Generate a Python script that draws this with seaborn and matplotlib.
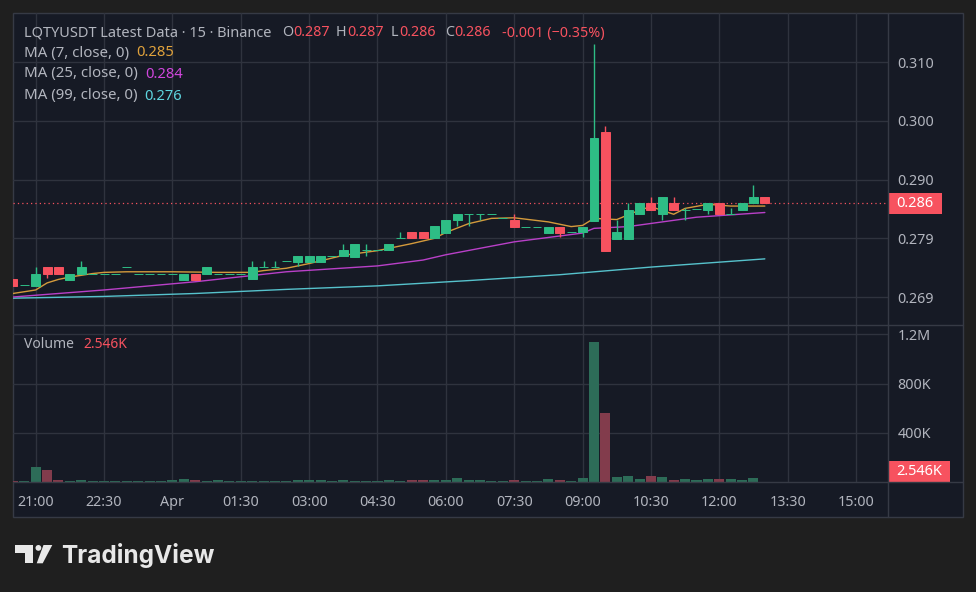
import matplotlib
matplotlib.use('Agg')
import matplotlib.pyplot as plt
from matplotlib.patches import Rectangle, Circle, Polygon
from matplotlib.lines import Line2D
import pandas as pd
import seaborn as sns

W, H = 976, 592

# 15 minute bars, 0 = 21:00 (Mar 31), 6 bars per 90 min tick
bar_idx = list(range(-2, 65))
opens = [0.2731, 0.2720, 0.2719, 0.2751, 0.2751, 0.2729, 0.2739, 0.2740, 0.2740, 0.2740,
         0.2751, 0.2740, 0.2740, 0.2740, 0.2740, 0.2729, 0.2740, 0.2739, 0.2740, 0.2740,
         0.2740, 0.2730, 0.2751, 0.2751, 0.2761, 0.2760, 0.2760, 0.2760, 0.2770, 0.2770,
         0.2769, 0.2780, 0.2780, 0.2780, 0.2800, 0.2811, 0.2811, 0.2800, 0.2809, 0.2831,
         0.2841, 0.2841, 0.2841, 0.2835, 0.2831, 0.2820, 0.2820, 0.2809, 0.2820, 0.2811,
         0.2810, 0.2830, 0.2981, 0.2799, 0.2799, 0.2841, 0.2860, 0.2841, 0.2860, 0.2849,
         0.2850, 0.2848, 0.2860, 0.2841, 0.2848, 0.2860, 0.2870]
highs = [0.2731, 0.2720, 0.2751, 0.2751, 0.2751, 0.2740, 0.2761, 0.2740, 0.2740, 0.2740,
         0.2751, 0.2740, 0.2740, 0.2740, 0.2740, 0.2740, 0.2740, 0.2751, 0.2740, 0.2740,
         0.2740, 0.2761, 0.2761, 0.2761, 0.2761, 0.2770, 0.2770, 0.2770, 0.2770, 0.2790,
         0.2790, 0.2790, 0.2780, 0.2790, 0.2811, 0.2811, 0.2811, 0.2821, 0.2831, 0.2841,
         0.2841, 0.2841, 0.2841, 0.2835, 0.2841, 0.2820, 0.2820, 0.2820, 0.2820, 0.2811,
         0.2820, 0.3131, 0.2991, 0.2831, 0.2860, 0.2860, 0.2870, 0.2870, 0.2870, 0.2852,
         0.2850, 0.2860, 0.2860, 0.2852, 0.2860, 0.2891, 0.2870]
lows = [0.2719, 0.2720, 0.2719, 0.2732, 0.2739, 0.2729, 0.2739, 0.2740, 0.2740, 0.2740,
        0.2751, 0.2740, 0.2740, 0.2740, 0.2740, 0.2729, 0.2729, 0.2739, 0.2740, 0.2740,
        0.2740, 0.2730, 0.2751, 0.2751, 0.2761, 0.2752, 0.2760, 0.2760, 0.2770, 0.2770,
        0.2769, 0.2770, 0.2780, 0.2780, 0.2800, 0.2800, 0.2800, 0.2800, 0.2809, 0.2821,
        0.2821, 0.2832, 0.2841, 0.2835, 0.2820, 0.2820, 0.2820, 0.2809, 0.2802, 0.2811,
        0.2802, 0.2830, 0.2779, 0.2799, 0.2799, 0.2841, 0.2848, 0.2831, 0.2848, 0.2831,
        0.2850, 0.2841, 0.2841, 0.2841, 0.2848, 0.2860, 0.2860]
closes = [0.2719, 0.2720, 0.2740, 0.2739, 0.2739, 0.2740, 0.2751, 0.2740, 0.2740, 0.2740,
          0.2751, 0.2740, 0.2740, 0.2740, 0.2740, 0.2740, 0.2729, 0.2751, 0.2740, 0.2740,
          0.2740, 0.2751, 0.2751, 0.2751, 0.2761, 0.2770, 0.2770, 0.2770, 0.2770, 0.2780,
          0.2790, 0.2780, 0.2780, 0.2790, 0.2800, 0.2800, 0.2800, 0.2821, 0.2831, 0.2841,
          0.2841, 0.2841, 0.2841, 0.2835, 0.2820, 0.2820, 0.2820, 0.2820, 0.2809, 0.2811,
          0.2820, 0.2971, 0.2779, 0.2811, 0.2849, 0.2860, 0.2848, 0.2870, 0.2848, 0.2849,
          0.2850, 0.2860, 0.2841, 0.2841, 0.2860, 0.2871, 0.2860]
volume_k = [8, 6, 122, 95, 14, 6, 14, 6, 6, 6,
            6, 6, 6, 6, 14, 22, 14, 6, 14, 6,
            6, 6, 6, 6, 6, 14, 14, 14, 6, 14,
            6, 6, 6, 14, 6, 14, 14, 14, 14, 33,
            14, 14, 8, 8, 14, 8, 8, 22, 14, 8,
            33, 1140, 561, 38, 47, 22, 47, 38, 14, 22,
            14, 22, 22, 22, 14, 33, 2.546]

# moving averages
ma7_t = [-2, 0, 1, 2, 3, 4, 5, 6, 8, 12, 16, 19, 20, 21, 22, 24, 27, 30, 33, 35, 36, 38,
         40, 42, 45, 47, 48, 49, 50, 51, 52, 53, 54, 56, 57, 59, 61, 64]
ma7_v = [0.2706, 0.2712, 0.2724, 0.2730, 0.2734, 0.2737, 0.2740, 0.2742, 0.2743, 0.2743,
         0.2742, 0.2742, 0.2745, 0.2747, 0.2749, 0.2757, 0.2771, 0.2779, 0.2791, 0.2800,
         0.2810, 0.2825, 0.2834, 0.2835, 0.2828, 0.2820, 0.2822, 0.2834, 0.2833, 0.2832,
         0.2840, 0.2848, 0.2854, 0.2841, 0.2851, 0.2858, 0.2855, 0.2855]
ma25_t = [-2, 6, 14, 22, 30, 34, 36, 39, 42, 48, 49, 52, 58, 64]
ma25_v = [0.2700, 0.2712, 0.2726, 0.2743, 0.2753, 0.2763, 0.2772, 0.2783, 0.2794, 0.2809,
          0.2817, 0.2820, 0.2836, 0.2844]
ma99_t = [-2, 6, 14, 22, 30, 38, 46, 54, 64]
ma99_v = [0.2698, 0.2701, 0.2706, 0.2713, 0.2719, 0.2728, 0.2738, 0.2751, 0.2765]

price_ticks = [0.27, 0.28, 0.29, 0.30, 0.31]
price_labels = ['0.269', '0.279', '0.290', '0.300', '0.310']
vol_ticks = [400, 800, 1200]
vol_labels = ['400K', '800K', '1.2M']
time_ticks = [0, 6, 12, 18, 24, 30, 36, 42, 48, 54, 60, 66, 72]
time_labels = ['21:00', '22:30', 'Apr', '01:30', '03:00', '04:30', '06:00', '07:30',
               '09:00', '10:30', '12:00', '13:30', '15:00']

OUTER = '#1f1f1f'
PANEL = '#161a25'
GRID = '#2f333e'
BORDER = '#363a45'
TXT = '#b2b5be'
UP = '#2ebd85'
DOWN = '#f7525f'
VUP = '#22775c'
VDOWN = '#8e3046'

sns.set_theme(style='dark')
plt.rcParams['font.family'] = ['Noto Sans', 'DejaVu Sans']


def fx(x):
    return x / W


def fy(y):
    return 1 - y / H


fig = plt.figure(figsize=(W / 100, H / 100), dpi=100, facecolor=OUTER)
renderer = fig.canvas.get_renderer()
fig.add_artist(Rectangle((fx(13), fy(517)), fx(963) - fx(13), fy(13) - fy(517),
                         transform=fig.transFigure, facecolor=PANEL, edgecolor=BORDER,
                         lw=1, zorder=0))

ax = fig.add_axes([fx(13), fy(325), fx(888) - fx(13), fy(13) - fy(325)])
axv = fig.add_axes([fx(13), fy(482), fx(888) - fx(13), fy(325) - fy(482)])

df = pd.DataFrame({'t': bar_idx, 'o': opens, 'h': highs, 'l': lows, 'c': closes,
                   'vol': volume_k})
df['dir'] = ['up' if c >= o else 'down' for o, c in zip(df['o'], df['c'])]
colors = [UP if d == 'up' else DOWN for d in df['dir']]

# MA lines (below candles)
sns.lineplot(x=ma99_t, y=ma99_v, ax=ax, color='#56c2cc', lw=1, zorder=2)
sns.lineplot(x=ma25_t, y=ma25_v, ax=ax, color='#b940c8', lw=1, zorder=2)
sns.lineplot(x=ma7_t, y=ma7_v, ax=ax, color='#d49a3c', lw=1, zorder=2)

# candles
ax.vlines(df['t'], df['l'], df['h'], colors=colors, lw=1, zorder=3)
ax.bar(df['t'], df['c'] - df['o'], bottom=df['o'], width=0.78, color=colors,
       edgecolor=colors, linewidth=0.7, zorder=4)

ax.axhline(0.286, color=DOWN, ls=(0, (1, 2.5)), lw=0.9, zorder=1)

# volume
sns.barplot(data=df, x='t', y='vol', hue='dir', palette={'up': VUP, 'down': VDOWN},
            native_scale=True, width=0.88, dodge=False, legend=False, errorbar=None,
            linewidth=0, ax=axv)

xl = ((13 - 35.7) / 11.393, (888 - 35.7) / 11.393)
for a in (ax, axv):
    a.set_facecolor('none')
    a.set_xlim(*xl)
    a.set_xticks(time_ticks)
    a.grid(True, color=GRID, lw=1)
    for s in a.spines.values():
        s.set_visible(False)
    a.yaxis.tick_right()
    a.tick_params(length=0, labelsize=10.3, labelcolor=TXT)
    a.set_xlabel('')
    a.set_ylabel('')

ax.set_ylim(0.26523, 0.31840)
ax.set_yticks(price_ticks)
ax.set_yticklabels(price_labels)
ax.tick_params(axis='y', pad=7)
ax.tick_params(axis='x', labelbottom=False)

axv.set_ylim(0, 1275.6)
axv.set_yticks(vol_ticks)
axv.set_yticklabels(vol_labels)
axv.tick_params(axis='y', pad=7)
axv.set_xticklabels(time_labels)
axv.tick_params(axis='x', pad=9.5)
for lab in axv.get_xticklabels():
    if lab.get_text() == 'Apr':
        lab.set_fontweight('bold')

# separators
for (x0, y0, x1, y1) in [(888, 13, 888, 517), (13, 325, 963, 325), (13, 482, 963, 482)]:
    fig.add_artist(Line2D([fx(x0), fx(x1)], [fy(y0), fy(y1)], transform=fig.transFigure,
                          color=BORDER, lw=1))

# last value boxes
fig.add_artist(Rectangle((fx(888), fy(213.5)), fx(942) - fx(888), fy(193) - fy(213.5),
                         transform=fig.transFigure, facecolor=DOWN, lw=0))
fig.text(fx(915), fy(203.5), '0.286', color='white', fontsize=10.5, fontweight='bold',
         ha='center', va='center')
fig.add_artist(Rectangle((fx(888), fy(482)), fx(950) - fx(888), fy(461) - fy(482),
                         transform=fig.transFigure, facecolor=DOWN, lw=0))
fig.text(fx(919), fy(471.5), '2.546K', color='white', fontsize=10.5, fontweight='bold',
         ha='center', va='center')


def put(x, y, s, color, fs=10.3, **kw):
    t = fig.text(fx(x), fy(y), s, color=color, fontsize=fs, va='center', **kw)
    return t.get_window_extent(renderer).x1


# header / legend
put(24, 33, 'LQTYUSDT Latest Data · 15 · Binance', TXT, fs=10.5)
for x, letter, val in [(282, 'O', '0.287'), (336, 'H', '0.287'), (391, 'L', '0.286'),
                       (445, 'C', '0.286')]:
    end = put(x, 33, letter, TXT, fs=10.3)
    put(end + 0.5, 33, val, DOWN, fs=10.3)
put(502, 33, '-0.001 (−0.35%)', DOWN, fs=10.3)
for y, s, c, v in [(53, 'MA (7, close, 0)', '#e0a23c', '0.285'),
                   (74, 'MA (25, close, 0)', '#d046dc', '0.284'),
                   (96, 'MA (99, close, 0)', '#5ed6e0', '0.276')]:
    end = put(24, y, s, TXT, fs=10.8)
    put(end + 7, y, v, c, fs=10.6, fontweight='semibold')
end = put(24, 345, 'Volume', TXT, fs=10)
put(end + 9, 345, '2.546K', DOWN, fs=10)

# TradingView logo
LOGO = '#e8e8e8'
fig.add_artist(Rectangle((fx(15), fy(553)), fx(33) - fx(15), fy(545) - fy(553),
                         transform=fig.transFigure, facecolor=LOGO, lw=0))
fig.add_artist(Rectangle((fx(25), fy(563.3)), fx(33) - fx(25), fy(545) - fy(563.3),
                         transform=fig.transFigure, facecolor=LOGO, lw=0))
fig.add_artist(Circle((38.4, H - 547.9), 2.9, transform=None, facecolor=LOGO, lw=0))
fig.add_artist(Polygon([(fx(43.5), fy(545)), (fx(52.3), fy(545)), (fx(42.7), fy(563.3)),
                        (fx(36.7), fy(563.3))], closed=True, transform=fig.transFigure,
                       facecolor=LOGO, lw=0))
fig.text(fx(61), fy(562.5), 'TradingView', color=LOGO, fontsize=17.6, fontweight='bold',
         family=['Inter', 'DejaVu Sans'], va='baseline')

fig.savefig('out.png', dpi=100, facecolor=OUTER)
